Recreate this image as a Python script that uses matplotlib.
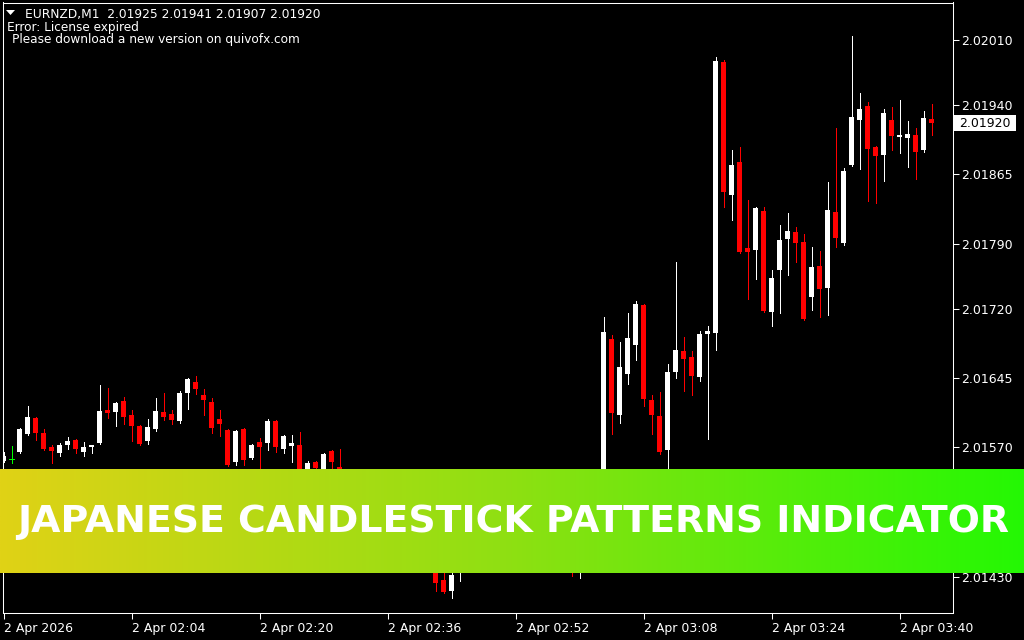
import matplotlib
matplotlib.use("Agg")
import matplotlib.pyplot as plt
import numpy as np
from matplotlib.patches import Rectangle, Polygon
import matplotlib.transforms as mtransforms

# ---------------- data ----------------
symbol = "EURNZD,M1"

opens = [
    2.01555, 2.01557, 2.01565, 2.01585, 2.01602, 2.01586, 2.01570, 2.01564, 2.01573, 2.01578,
    2.01565, 2.01570, 2.01575, 2.01610, 2.01608, 2.01620, 2.01605, 2.01593, 2.01577, 2.01590,
    2.01608, 2.01606, 2.01599, 2.01629, 2.01641, 2.01627, 2.01619, 2.01601, 2.01589, 2.01554,
    2.01590, 2.01559, 2.01576, 2.01575, 2.01599, 2.01568, 2.01572, 2.01573, 2.01529, 2.01554,
    2.01530, 2.01566, 2.01549, 2.01525, 2.01510, 2.01500, 2.01512, 2.01498, 2.01485, 2.01495,
    2.01480, 2.01470, 2.01478, 2.01460, 2.01452, 2.01427, 2.01415, 2.01440, 2.01455, 2.01465,
    2.01475, 2.01470, 2.01482, 2.01478, 2.01468, 2.01475, 2.01465, 2.01455, 2.01462, 2.01452,
    2.01458, 2.01450, 2.01442, 2.01452, 2.01448, 2.01455, 2.01687, 2.01605, 2.01649, 2.01681,
    2.01724, 2.01621, 2.01604, 2.01567, 2.01651, 2.01674, 2.01668, 2.01646, 2.01692, 2.01694,
    2.01986, 2.01843, 2.01878, 2.01785, 2.01783, 2.01825, 2.01716, 2.01762, 2.01795, 2.01803,
    2.01792, 2.01732, 2.01766, 2.01742, 2.01824, 2.01791, 2.01875, 2.01924, 2.01939, 2.01894,
    2.01886, 2.01924, 2.01905, 2.01904, 2.01907, 2.01891, 2.01925,
]
highs = [
    2.01565, 2.01572, 2.01591, 2.01615, 2.01603, 2.01590, 2.01573, 2.01575, 2.01581, 2.01579,
    2.01576, 2.01573, 2.01637, 2.01634, 2.01619, 2.01624, 2.01610, 2.01594, 2.01601, 2.01623,
    2.01629, 2.01610, 2.01631, 2.01645, 2.01647, 2.01633, 2.01623, 2.01610, 2.01590, 2.01589,
    2.01591, 2.01574, 2.01580, 2.01601, 2.01600, 2.01583, 2.01583, 2.01587, 2.01555, 2.01555,
    2.01564, 2.01567, 2.01568, 2.01535, 2.01520, 2.01515, 2.01520, 2.01505, 2.01500, 2.01502,
    2.01490, 2.01482, 2.01485, 2.01470, 2.01458, 2.01445, 2.01445, 2.01462, 2.01470, 2.01480,
    2.01490, 2.01485, 2.01495, 2.01488, 2.01480, 2.01485, 2.01472, 2.01468, 2.01470, 2.01462,
    2.01465, 2.01458, 2.01458, 2.01462, 2.01460, 2.01711, 2.01691, 2.01684, 2.01715, 2.01728,
    2.01725, 2.01627, 2.01630, 2.01660, 2.01770, 2.01689, 2.01674, 2.01696, 2.01701, 2.01992,
    2.01988, 2.01891, 2.01894, 2.01837, 2.01830, 2.01830, 2.01762, 2.01810, 2.01823, 2.01808,
    2.01800, 2.01786, 2.01782, 2.01857, 2.01915, 2.01872, 2.02014, 2.01953, 2.01943, 2.01895,
    2.01935, 2.01938, 2.01945, 2.01922, 2.01915, 2.01933, 2.01941,
]
lows = [
    2.01554, 2.01553, 2.01564, 2.01583, 2.01578, 2.01567, 2.01553, 2.01561, 2.01568, 2.01564,
    2.01561, 2.01564, 2.01574, 2.01602, 2.01593, 2.01595, 2.01577, 2.01573, 2.01574, 2.01588,
    2.01600, 2.01595, 2.01596, 2.01612, 2.01628, 2.01605, 2.01586, 2.01582, 2.01550, 2.01551,
    2.01551, 2.01558, 2.01540, 2.01567, 2.01565, 2.01564, 2.01554, 2.01530, 2.01525, 2.01538,
    2.01525, 2.01540, 2.01520, 2.01505, 2.01495, 2.01490, 2.01495, 2.01480, 2.01478, 2.01475,
    2.01465, 2.01460, 2.01455, 2.01448, 2.01415, 2.01413, 2.01407, 2.01426, 2.01445, 2.01458,
    2.01468, 2.01460, 2.01475, 2.01465, 2.01460, 2.01462, 2.01450, 2.01448, 2.01448, 2.01442,
    2.01445, 2.01431, 2.01429, 2.01440, 2.01440, 2.01445, 2.01585, 2.01596, 2.01638, 2.01664,
    2.01615, 2.01585, 2.01563, 2.01540, 2.01645, 2.01631, 2.01627, 2.01642, 2.01579, 2.01675,
    2.01830, 2.01816, 2.01780, 2.01730, 2.01752, 2.01716, 2.01701, 2.01715, 2.01756, 2.01770,
    2.01708, 2.01718, 2.01711, 2.01713, 2.01786, 2.01789, 2.01874, 2.01871, 2.01836, 2.01834,
    2.01858, 2.01891, 2.01888, 2.01873, 2.01860, 2.01889, 2.01907,
]
closes = [
    2.01561, 2.01557, 2.01590, 2.01603, 2.01586, 2.01568, 2.01566, 2.01573, 2.01577, 2.01568,
    2.01570, 2.01573, 2.01609, 2.01607, 2.01618, 2.01603, 2.01593, 2.01574, 2.01592, 2.01609,
    2.01603, 2.01600, 2.01629, 2.01644, 2.01633, 2.01621, 2.01591, 2.01595, 2.01551, 2.01588,
    2.01556, 2.01573, 2.01570, 2.01599, 2.01570, 2.01582, 2.01575, 2.01535, 2.01553, 2.01548,
    2.01563, 2.01554, 2.01525, 2.01510, 2.01500, 2.01512, 2.01498, 2.01485, 2.01495, 2.01480,
    2.01470, 2.01478, 2.01460, 2.01452, 2.01424, 2.01414, 2.01432, 2.01455, 2.01465, 2.01475,
    2.01470, 2.01482, 2.01478, 2.01468, 2.01475, 2.01465, 2.01455, 2.01462, 2.01452, 2.01458,
    2.01450, 2.01442, 2.01452, 2.01448, 2.01456, 2.01695, 2.01607, 2.01657, 2.01688, 2.01725,
    2.01622, 2.01605, 2.01565, 2.01651, 2.01675, 2.01665, 2.01647, 2.01692, 2.01696, 2.01987,
    2.01846, 2.01875, 2.01781, 2.01781, 2.01829, 2.01717, 2.01753, 2.01794, 2.01804, 2.01791,
    2.01709, 2.01765, 2.01741, 2.01826, 2.01796, 2.01869, 2.01927, 2.01935, 2.01892, 2.01885,
    2.01931, 2.01906, 2.01907, 2.01908, 2.01889, 2.01926, 2.01920,
]

x_tick_bars = [0, 16, 32, 48, 64, 80, 96, 112]
x_tick_labels = ["2 Apr 2026", "2 Apr 02:04", "2 Apr 02:20", "2 Apr 02:36",
                 "2 Apr 02:52", "2 Apr 03:08", "2 Apr 03:24", "2 Apr 03:40"]
y_ticks = [2.02010, 2.01940, 2.01865, 2.01790, 2.01720, 2.01645, 2.01570, 2.01430]
info_lines = ["Error: License expired", "Please download a new version on quivofx.com"]
banner_title = "JAPANESE CANDLESTICK PATTERNS INDICATOR"

# ---------------- figure ----------------
W, H = 1024, 640
fig = plt.figure(figsize=(W / 100, H / 100), dpi=100, facecolor="black")

def fx(px):
    return px / W

def fy(py):
    return 1 - py / H

ax_left, ax_right, ax_top, ax_bot = 2.5, 952.5, 2.5, 612.5
ax = fig.add_axes([fx(ax_left), fy(ax_bot), (ax_right - ax_left) / W, (ax_bot - ax_top) / H])
ax.set_facecolor("black")

bar_px = 8.0
x0 = (ax_left - 3.5) / bar_px
x1 = (ax_right - 3.5) / bar_px
ax.set_xlim(x0, x1)

px_per_price = 92600.0
ref_price, ref_y = 2.02010, 40.0
p_top = ref_price + (ref_y - ax_top) / px_per_price
p_bot = ref_price - (ax_bot - ref_y) / px_per_price
ax.set_ylim(p_bot, p_top)

o = np.array(opens)
h = np.array(highs)
l = np.array(lows)
c = np.array(closes)
idx = np.arange(len(o))

bull = c > o
bear = c < o
doji = c == o

min_h = 1.2 / px_per_price
body_w = 5.0 / bar_px

# wicks
for mask, col in ((bull, "white"), (bear, "#ff0000"), (doji, "#00ff00")):
    ax.vlines(idx[mask], l[mask], h[mask], colors=col, linewidth=0.72,
              antialiased=False, zorder=2)

# bodies
for mask, col in ((bull, "white"), (bear, "#ff0000")):
    bottoms = np.minimum(o[mask], c[mask])
    heights = np.maximum(np.abs(c[mask] - o[mask]), min_h)
    ax.bar(idx[mask], heights, bottom=bottoms, width=body_w, color=col,
           linewidth=0, antialiased=False, zorder=3)

# doji cross
ax.hlines(o[doji], idx[doji] - body_w / 2, idx[doji] + body_w / 2, colors="#00ff00",
          linewidth=0.72, antialiased=False, zorder=3)

# frame / ticks
for sp in ax.spines.values():
    sp.set_color("white")
    sp.set_linewidth(0.75)
ax.yaxis.tick_right()
ax.set_yticks(y_ticks)
ax.set_yticklabels([f"{v:.5f}" for v in y_ticks])
ax.set_xticks(x_tick_bars)
ax.set_xticklabels(x_tick_labels, ha="left")
ax.tick_params(axis="both", colors="white", labelcolor="white", length=4, width=0.75,
               labelsize=9, direction="out")
ax.tick_params(axis="y", pad=2)
ax.tick_params(axis="x", pad=3)
for t in ax.get_xticklabels():
    t.set_fontfamily("DejaVu Sans")
for t in ax.get_yticklabels():
    t.set_fontfamily("DejaVu Sans")

# current price marker
last = closes[-1]
blend = mtransforms.blended_transform_factory(ax.transAxes, ax.transData)
ax_w = ax_right - ax_left
box_l = (954 - ax_left) / ax_w
box_r = (1016 - ax_left) / ax_w
half_h = 8.0 / px_per_price
ax.add_patch(Rectangle((box_l, last - half_h), box_r - box_l, 2 * half_h,
                       transform=blend, facecolor="white", edgecolor="none",
                       clip_on=False, zorder=4))
ax.text((959 - ax_left) / ax_w, last, f"{last:.5f}", transform=blend, color="black",
        fontsize=9, family="DejaVu Sans", va="center", ha="left", clip_on=False, zorder=5)

# header
fig.patches.append(Polygon([[fx(6), fy(10)], [fx(15), fy(10)], [fx(10.5), fy(15)]],
                           closed=True, transform=fig.transFigure, facecolor="white",
                           edgecolor="none", zorder=6))
header = f"{symbol}  {opens[-1]:.5f} {highs[-1]:.5f} {lows[-1]:.5f} {closes[-1]:.5f}"
fig.text(fx(25), fy(18), header, color="white", fontsize=8.8, family="DejaVu Sans",
         va="baseline", ha="left", zorder=6)
fig.text(fx(7), fy(30.5), info_lines[0], color="white", fontsize=8.7, family="DejaVu Sans",
         va="baseline", ha="left", zorder=6)
fig.text(fx(12), fy(42.5), info_lines[1], color="white", fontsize=8.7, family="DejaVu Sans",
         va="baseline", ha="left", zorder=6)

# banner
ban_top, ban_bot = 469, 573
bax = fig.add_axes([0, fy(ban_bot), 1, (ban_bot - ban_top) / H])
bax.set_zorder(10)
stops_x = np.array([0.0, 0.5, 1.0])
stops_c = np.array([[224, 210, 22], [142, 224, 18], [36, 248, 4]]) / 255.0
gx = np.linspace(0, 1, 512)
grad = np.stack([np.interp(gx, stops_x, stops_c[:, k]) for k in range(3)], axis=-1)
bax.imshow(grad[np.newaxis, :, :], aspect="auto", extent=[0, 1, 0, 1], interpolation="bilinear")
bax.set_xlim(0, 1)
bax.set_ylim(0, 1)
bax.axis("off")
title = bax.text(fx(513.5), 1 - (532 - ban_top) / (ban_bot - ban_top), banner_title,
                 color="white", fontsize=28, fontweight="bold", family="DejaVu Sans",
                 ha="center", va="baseline", transform=bax.transAxes, zorder=12)
renderer = fig.canvas.get_renderer()
target_w = 993.0
cur_w = title.get_window_extent(renderer).width
title.set_fontsize(28 * target_w / cur_w)

fig.savefig("out.png", dpi=100, facecolor="black")
